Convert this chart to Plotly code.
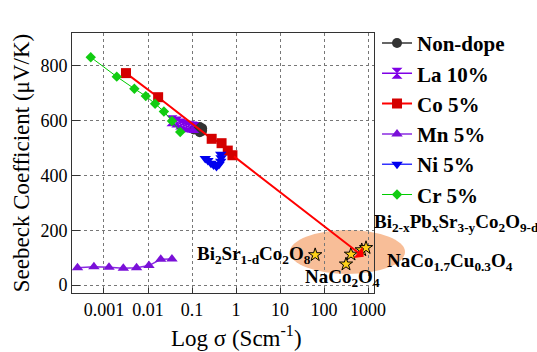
import math
import plotly.graph_objects as go

# ---- data ----
nondope_sigma = [0.11, 0.13, 0.15, 0.17, 0.17, 0.15]
nondope_S = [568, 575, 577, 572, 563, 558]

la_sigma = [0.035, 0.045, 0.055, 0.065, 0.075, 0.085, 0.10, 0.11]
la_S = [600, 595, 588, 583, 580, 578, 577, 575]

co_sigma = [0.00316, 0.017, 0.28, 0.47, 0.65, 0.83]
co_S = [774, 686, 534, 518, 491, 474]

mn_sigma = [0.00025, 0.00059, 0.0013, 0.00275, 0.0055, 0.0105, 0.0195, 0.035]
mn_S = [63, 67, 65, 61, 63, 71, 94, 95]

ni_sigma = [0.20, 0.23, 0.27, 0.31, 0.36, 0.41, 0.45, 0.46, 0.45]
ni_S = [462, 455, 445, 438, 433, 440, 452, 465, 478]

cr_sigma = [0.0005, 0.00195, 0.0049, 0.0089, 0.0145, 0.023, 0.035, 0.054]
cr_S = [832, 761, 717, 690, 662, 634, 599, 559]

star_sigma = [63, 316, 410, 720, 900]
star_S = [110, 76, 112, 128, 136]

arrow_tip = (800, 103)

x_ticks = [0.001, 0.01, 0.1, 1, 10, 100, 1000]
x_ticklabels = ["0.001", "0.01", "0.1", "1", "10", "100", "1000"]
y_ticks = [0, 200, 400, 600, 800]

SERIF = "Liberation Serif"

fig = go.Figure()

def add(name, xs, ys, color, symbol, size, mcolor=None, width=1.5):
    fig.add_trace(go.Scatter(
        x=xs, y=ys, name=name, mode="lines+markers",
        line=dict(color=color, width=width),
        marker=dict(symbol=symbol, size=size, color=mcolor or color),
        cliponaxis=False,
    ))

add("Non-dope", nondope_sigma, nondope_S, "#333333", "circle", 10)
add("La 10%", la_sigma, la_S, "#7f00e6", "hourglass", 11)
add("Co 5%", co_sigma, co_S, "#ff0000", "square", 10, mcolor="#d40000", width=2)
add("Mn 5%", mn_sigma, mn_S, "#8a2be2", "triangle-up", 10, mcolor="#7a10d8")
add("Ni 5%", ni_sigma, ni_S, "#3333ff", "triangle-down", 10, mcolor="#0000ee")
add("Cr 5%", cr_sigma, cr_S, "#00cc00", "diamond", 8, mcolor="#11cc11", width=1)

fig.add_trace(go.Scatter(
    x=star_sigma, y=star_S, mode="markers", showlegend=False,
    marker=dict(symbol="star", size=10, color="#ffd21a",
                line=dict(color="black", width=1)),
))

# arrow from last Co point to the cluster
fig.add_annotation(
    x=math.log10(arrow_tip[0]), y=arrow_tip[1],
    ax=math.log10(co_sigma[-1]), ay=co_S[-1],
    xref="x", yref="y", axref="x", ayref="y",
    showarrow=True, arrowhead=1, arrowsize=1.2, arrowwidth=2,
    arrowcolor="#ff0000", text="",
)

# ellipse highlighting cluster (paper coords, extends beyond plot)
L, T, W, H = 72, 33, 302, 260
def px(p): return (p - L) / W
def py(p): return (T + H - p) / H
fig.add_shape(type="circle", xref="paper", yref="paper",
              x0=px(290), x1=px(405), y0=py(274), y1=py(230),
              fillcolor="rgb(248,190,152)", line=dict(width=0), layer="below")

lab_font = dict(family=SERIF, size=19, color="black")
fig.add_annotation(x=px(372), y=py(223), xref="paper", yref="paper", xanchor="left",
                   yanchor="middle", showarrow=False,
                   text="<b>Bi<sub>2-x</sub>Pb<sub>x</sub>Sr<sub>3-y</sub>Co<sub>2</sub>O<sub>9-d</sub></b>",
                   font=lab_font)
fig.add_annotation(x=px(385), y=py(262), xref="paper", yref="paper", xanchor="left",
                   yanchor="middle", showarrow=False,
                   text="<b>NaCo<sub>1.7</sub>Cu<sub>0.3</sub>O<sub>4</sub></b>", font=lab_font)
fig.add_annotation(x=px(313), y=py(255), xref="paper", yref="paper", xanchor="right",
                   yanchor="middle", showarrow=False,
                   text="<b>Bi<sub>2</sub>Sr<sub>1-d</sub>Co<sub>2</sub>O<sub>8</sub></b>", font=lab_font)
fig.add_annotation(x=px(303), y=py(278), xref="paper", yref="paper", xanchor="left",
                   yanchor="middle", showarrow=False,
                   text="<b>NaCo<sub>2</sub>O<sub>4</sub></b>", font=lab_font)

# x-axis title (slightly right of centre as in the original)
fig.add_annotation(x=px(236), y=py(336), xref="paper", yref="paper", xanchor="center",
                   yanchor="middle", showarrow=False,
                   text="Log σ (Scm<sup>-1</sup>)", font=dict(family=SERIF, size=23, color="black"))

fig.update_layout(
    width=537, height=352,
    margin=dict(l=L, r=537 - L - W, t=T, b=352 - T - H, autoexpand=False),
    paper_bgcolor="white", plot_bgcolor="rgba(0,0,0,0)",
    font=dict(family=SERIF, color="black"),
    legend=dict(x=1.01, y=1.039, xanchor="left", yanchor="top",
                font=dict(family=SERIF, size=21, color="black", weight="bold"),
                bgcolor="rgba(0,0,0,0)", itemwidth=30, tracegroupgap=0,
                maxheight=1.0),
)
fig.update_xaxes(
    type="log", range=[-3.727, 3.136], automargin=False,
    tickvals=x_ticks, ticktext=x_ticklabels,
    tickfont=dict(family=SERIF, size=18, color="black"),
    showgrid=True, gridcolor="#777777", griddash="dot", gridwidth=1,
    showline=True, linecolor="#333333", linewidth=1, mirror=True,
    ticks="inside", ticklen=5, tickcolor="#333333",
    zeroline=False,
)
fig.update_yaxes(
    range=[-29.2, 920.5], tickvals=y_ticks, automargin=False,
    tickfont=dict(family=SERIF, size=18, color="black"),
    showgrid=True, gridcolor="#777777", griddash="dot", gridwidth=1,
    showline=True, linecolor="#333333", linewidth=1, mirror=True,
    ticks="inside", ticklen=8, tickcolor="#333333",
    zeroline=False,
    title=dict(text="Seebeck Coefficient (μV/K)", font=dict(family=SERIF, size=23), standoff=4),
)

fig.write_html("out.html", post_script="document.body.style.margin='0';",
               config={"displayModeBar": False})
